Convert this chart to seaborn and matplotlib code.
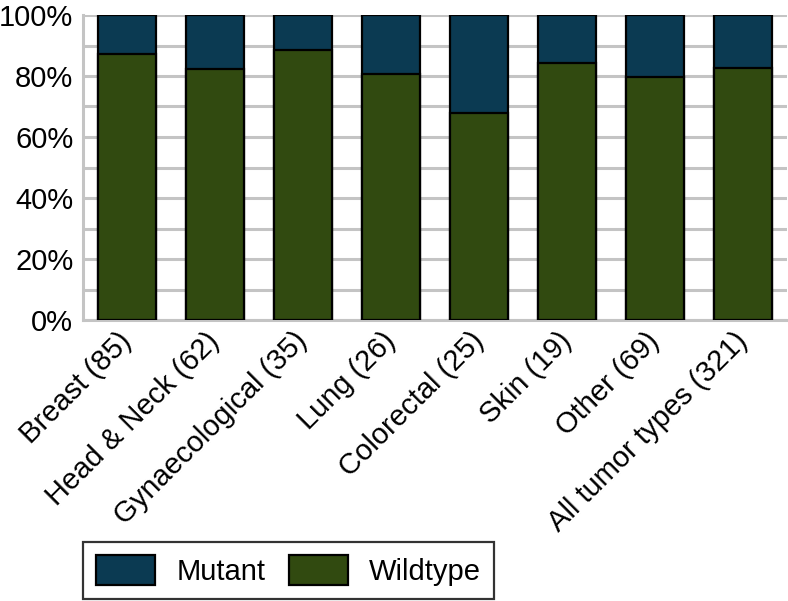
import matplotlib
matplotlib.use("Agg")
import matplotlib.pyplot as plt
import matplotlib.transforms as mtransforms
from matplotlib.patches import Patch
import seaborn as sns
import pandas as pd

categories = ["Breast (85)", "Head & Neck (62)", "Gynaecological (35)", "Lung (26)",
              "Colorectal (25)", "Skin (19)", "Other (69)", "All tumor types (321)"]
wildtype_pct = [87.1, 82.3, 88.6, 80.8, 68.0, 84.2, 79.7, 82.6]
mutant_pct = [12.9, 17.7, 11.4, 19.2, 32.0, 15.8, 20.3, 17.4]
y_ticks = [0, 20, 40, 60, 80, 100]
y_tick_labels = ["0%", "20%", "40%", "60%", "80%", "100%"]

mutant_color = "#0b3a52"
wild_color = "#314a10"
grid_color = "#c4c4c4"

df = pd.DataFrame({"category": categories,
                   "wildtype": wildtype_pct,
                   "total": [w + m for w, m in zip(wildtype_pct, mutant_pct)]})

sns.set_theme(style="white")
plt.rcParams["font.family"] = ["Liberation Sans", "DejaVu Sans"]
plt.rcParams["text.color"] = "black"
plt.rcParams["xtick.color"] = "black"
plt.rcParams["ytick.color"] = "black"
plt.rcParams["axes.labelcolor"] = "black"

FS = 21

fig = plt.figure(figsize=(7.88, 6.01), dpi=100)
ax = fig.add_axes([83 / 788, 281 / 601, 704 / 788, 305 / 601])

sns.barplot(data=df, x="category", y="total", color=mutant_color, saturation=1,
            width=0.66, edgecolor="black", linewidth=1.6, ax=ax, zorder=3)
sns.barplot(data=df, x="category", y="wildtype", color=wild_color, saturation=1,
            width=0.66, edgecolor="black", linewidth=1.6, ax=ax, zorder=3)

ax.set_xlim(-0.5, len(categories) - 0.5)
ax.set_ylim(0, 100)
ax.set_yticks(y_ticks)
ax.set_yticklabels(y_tick_labels, fontsize=FS, color="black")
ax.set_yticks(range(0, 101, 10), minor=True)
ax.yaxis.grid(True, which="both", color=grid_color, linewidth=2.2, zorder=0)
ax.set_axisbelow(True)
ax.set_xlabel("")
ax.set_ylabel("")
ax.tick_params(axis="y", which="both", length=0, pad=7, labelcolor="black")
ax.tick_params(axis="x", length=0, pad=5, labelcolor="black")

for s in ["top", "right"]:
    ax.spines[s].set_visible(False)
for s in ["left", "bottom"]:
    ax.spines[s].set_color(grid_color)
    ax.spines[s].set_linewidth(2.2)

offset = mtransforms.ScaledTranslation(10 / 100, 0, fig.dpi_scale_trans)
for lab in ax.get_xticklabels():
    lab.set_rotation(45)
    lab.set_ha("right")
    lab.set_va("top")
    lab.set_fontsize(FS)
    lab.set_color("black")
    lab.set_transform(lab.get_transform() + offset)

handles = [Patch(facecolor=mutant_color, edgecolor="black", linewidth=1.6, label="Mutant"),
           Patch(facecolor=wild_color, edgecolor="black", linewidth=1.6, label="Wildtype")]
leg = fig.legend(handles=handles, loc="lower left", bbox_to_anchor=(83 / 788, 2 / 601),
                 ncol=2, frameon=True, fancybox=False, fontsize=FS,
                 handlelength=2.03, handleheight=1.25, handletextpad=0.72,
                 columnspacing=0.8, borderpad=0.45, borderaxespad=0)
leg.get_frame().set_edgecolor("black")
leg.get_frame().set_linewidth(1.6)
for t in leg.get_texts():
    t.set_color("black")

fig.savefig("out.png", dpi=100)
